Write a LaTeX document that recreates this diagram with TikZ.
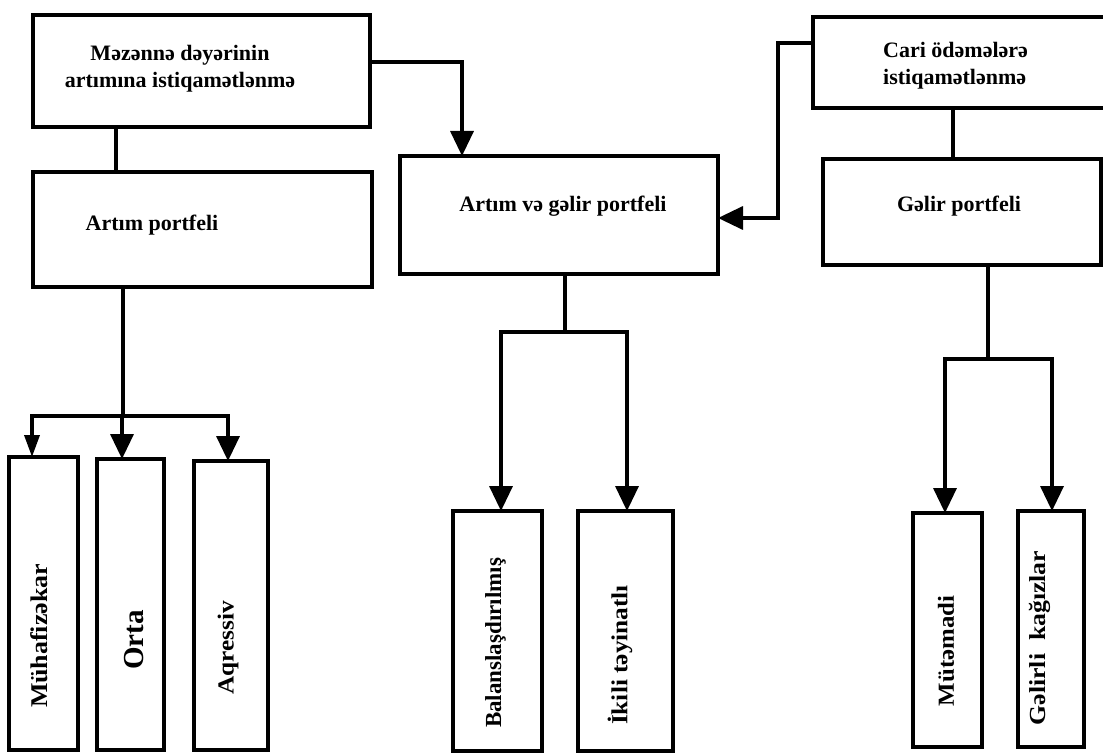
\documentclass[tikz,border=0pt]{standalone}
\usepackage{fontspec}
\setmainfont{Liberation Serif}
\usetikzlibrary{arrows.meta}
\newcommand\vstretch[2]{\scalebox{#1}[1]{#2}}
\begin{document}
\begin{tikzpicture}[x=1pt,y=-1pt,
  box/.style={draw=black, line width=4pt, rectangle, inner sep=0pt, outer sep=0pt},
  lbl/.style={font=\fontsize{22}{27}\selectfont\bfseries, inner sep=0pt, align=center},
  vlbl/.style={font=\fontsize{23}{27}\selectfont\bfseries, inner sep=0pt, rotate=90},
  conn/.style={line width=3.5pt, line join=miter},
  arr/.style={conn, -{Triangle[width=23pt,length=25pt]}},
  sarr/.style={conn, -{Triangle[width=15pt,length=22pt]}}
]
\fill[white] (0,0) rectangle (1103,754);
\useasboundingbox (0,0) rectangle (1103,754);

% upper boxes
\node[box, minimum width=337pt, minimum height=112pt] (b1) at (201.5,71) {};
\node[box, minimum width=339pt, minimum height=115pt] (b2) at (202.5,229.5) {};
\node[box, minimum width=318pt, minimum height=118pt] (b3) at (559,215) {};
\node[box, minimum width=297pt, minimum height=91pt] (b4) at (961.5,62.5) {};
\node[box, minimum width=278pt, minimum height=106pt] (b5) at (962,212) {};

% upper texts
\node[lbl] (t1) at (180,69) {Məzənnə dəyərinin\\artımına istiqamətlənmə};
\node[lbl, anchor=base] (t2) at (152,230) {Artım portfeli};
\node[lbl, anchor=base] (t3) at (563,212) {Artım və gəlir portfeli};
\node[lbl, align=left, anchor=west] (t4) at (883,66) {Cari ödəmələrə\\istiqamətlənmə};
\node[lbl, anchor=base] (t5) at (959,212) {Gəlir portfeli};

% lower boxes
\node[box, minimum width=69pt, minimum height=293pt] (m1) at (43.5,603.5) {};
\node[box, minimum width=67pt, minimum height=291pt] (m2) at (130.5,604.5) {};
\node[box, minimum width=74pt, minimum height=289pt] (m3) at (231,605.5) {};
\node[box, minimum width=89pt, minimum height=240pt] (m4) at (497.5,631) {};
\node[box, minimum width=95pt, minimum height=240pt] (m5) at (625.5,631) {};
\node[box, minimum width=69pt, minimum height=234pt] (m6) at (947.5,630) {};
\node[box, minimum width=66pt, minimum height=236pt] (m7) at (1051,629) {};

% lower texts
\node[vlbl, font=\fontsize{24}{27}\selectfont\bfseries] (v1) at (39,636) {\vstretch{1.08}{Mühafizəkar}};
\node[vlbl, font=\fontsize{29}{30}\selectfont\bfseries] (v2) at (134,640) {Orta};
\node[vlbl] (v3) at (228,648) {\vstretch{1.1}{Aqressiv}};
\node[vlbl] (v4) at (495.5,643) {Balanslaşdırılmış};
\node[vlbl] (v5) at (620,655) {\vstretch{1.1}{İkili təyinatlı}};
\node[vlbl] (v6) at (946,651) {\vstretch{1.08}{Mütəmadi}};
\node[vlbl] (v7) at (1040,638) {\vstretch{1.12}{Gəlirli\ \ kağızlar}};

% junction coordinates
\coordinate (j1) at (116,0);
\coordinate (j2) at (953,0);
\coordinate (k1) at (462,62);
\coordinate (k2) at (778,43);
\coordinate (k3) at (778,218);
\coordinate (r1) at (123,416);
\coordinate (a1) at (32,416);
\coordinate (a2) at (122,416);
\coordinate (a3) at (228,416);
\coordinate (r2) at (565,332);
\coordinate (a4) at (501,332);
\coordinate (a5) at (627,332);
\coordinate (r3) at (988,359);
\coordinate (a6) at (945,359);
\coordinate (a7) at (1052,359);

% connectors
\draw[conn] (b1.south -| j1) -- (b2.north -| j1);
\draw[arr] (b1.east |- k1) -| (b3.north -| k1);
\draw[arr] (b4.west |- k2) -- (k2) -- (k3) -- (b3.east |- k3);
\draw[conn] (b4.south -| j2) -- (b5.north -| j2);

\draw[conn] (b2.south -| r1) -- (r1);
\draw[conn] (a1) -- (a3);
\draw[sarr] (r1) -| (m1.north -| a1);
\draw[arr] (a2) -- (m2.north -| a2);
\draw[arr] (r1) -| (m3.north -| a3);

\draw[conn] (b3.south -| r2) -- (r2);
\draw[arr] (r2) -| (m4.north -| a4);
\draw[arr] (r2) -| (m5.north -| a5);

\draw[conn] (b5.south -| r3) -- (r3);
\draw[arr] (r3) -| (m6.north -| a6);
\draw[arr] (r3) -| (m7.north -| a7);
\end{tikzpicture}
\end{document}
